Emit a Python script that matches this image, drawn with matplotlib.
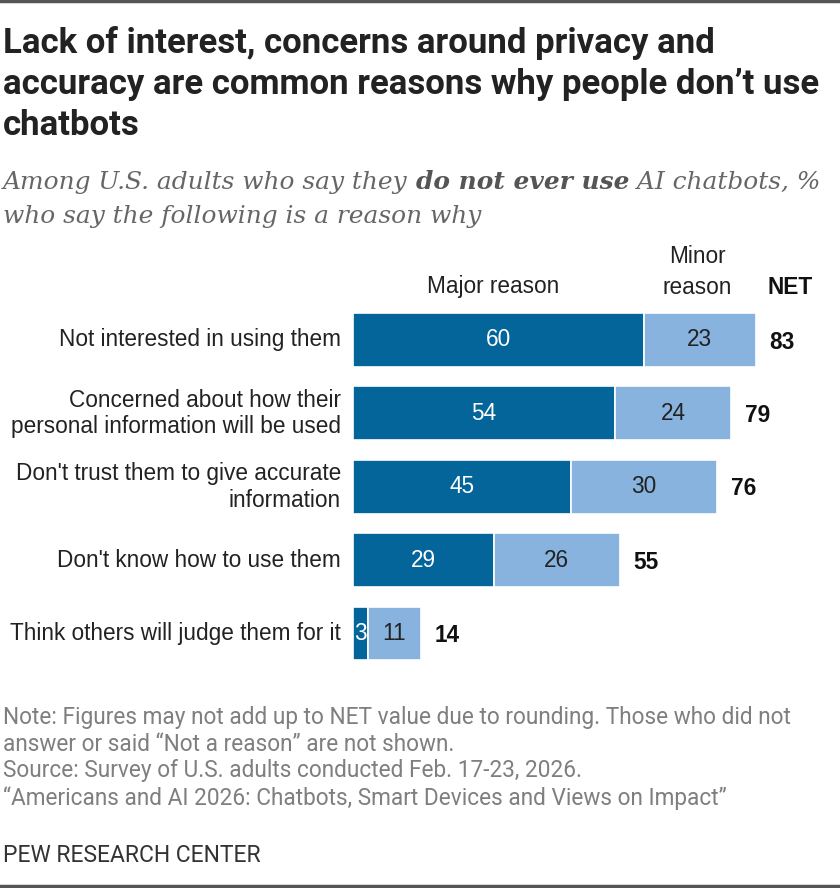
import matplotlib
matplotlib.use("Agg")
import matplotlib.pyplot as plt
from matplotlib.lines import Line2D

categories = [
    "Not interested in using them",
    "Concerned about how their\npersonal information will be used",
    "Don't trust them to give accurate\ninformation",
    "Don't know how to use them",
    "Think others will judge them for it",
]
major = [60, 54, 45, 29, 3]
minor = [23, 24, 30, 26, 11]
net = [83, 79, 76, 55, 14]

DARK = "#03659a"
LIGHT = "#88b3df"

W, H = 840, 888
fig = plt.figure(figsize=(W / 100, H / 100), dpi=100)

narrow = "Roboto"
body = "Liberation Sans"
serif = "DejaVu Serif"
FS = 16.3


def fx(px):
    return px / W


def fy(py):
    return 1 - py / H


# frame lines at top and bottom
fig.add_artist(Line2D([0, 1], [fy(1), fy(1)], color="#555555", lw=2.5))
fig.add_artist(Line2D([0, 1], [fy(886), fy(886)], color="#555555", lw=2.5))

# title / subtitle
title = ("Lack of interest, concerns around privacy and\n"
         "accuracy are common reasons why people don\u2019t use\n"
         "chatbots")
fig.text(fx(3), fy(26), title, family=narrow, weight="bold", fontsize=25,
         color="#222222", va="top", ha="left", linespacing=1.31)

sub_y1 = fy(182)
sub_fs = 17.9
t1 = fig.text(fx(3), sub_y1, "Among U.S. adults who say they ", family=serif, style="italic",
              fontsize=sub_fs, color="#666666", va="center")
fig.canvas.draw()
r = fig.canvas.get_renderer()
bb = t1.get_window_extent(r)
t2 = fig.text(bb.x1 / W, sub_y1, "do not ever use", family=serif, style="italic",
              weight="bold", fontsize=sub_fs, color="#555555", va="center")
bb2 = t2.get_window_extent(r)
fig.text(bb2.x1 / W, sub_y1, " AI chatbots, %", family=serif, style="italic",
         fontsize=sub_fs, color="#666666", va="center")
fig.text(fx(3), fy(216), "who say the following is a reason why", family=serif,
         style="italic", fontsize=sub_fs, color="#666666", va="center")

# bar axes: 1 unit = 4.85 px, bars start at x=353
px_per = 4.85
ax_left, ax_top, ax_bot = 353, 303.3, 670.2
ax = fig.add_axes([fx(ax_left), fy(ax_bot), 100 * px_per / W, (ax_bot - ax_top) / H])
ax.set_xlim(0, 100)
ax.set_ylim(len(categories) - 0.5, -0.5)
ax.axis("off")

ypos = list(range(len(categories)))
ax.barh(ypos, major, height=0.735, color=DARK, edgecolor="white", linewidth=1.2)
ax.barh(ypos, minor, left=major, height=0.735, color=LIGHT, edgecolor="white", linewidth=1.2)

for i, cat in enumerate(categories):
    ax.text(-12 / px_per, i, cat, ha="right", va="center", family=body,
            fontsize=FS, color="#222222", linespacing=1.2)
    ax.text(major[i] / 2, i, str(major[i]), ha="center", va="center",
            family=body, fontsize=FS, color="white")
    ax.text(major[i] + minor[i] / 2, i, str(minor[i]), ha="center", va="center",
            family=body, fontsize=FS, color="#222222")
    ax.text(major[i] + minor[i] + 14 / px_per, i + 0.03, str(net[i]), ha="left", va="center",
            family=body, weight="bold", fontsize=FS, color="#111111")

# column headers
fig.text(fx(493), fy(287), "Major reason", ha="center", va="center", family=body,
         fontsize=FS, color="#222222")
fig.text(fx(697), fy(272), "Minor\nreason", ha="center", va="center", family=body,
         fontsize=FS, color="#222222", linespacing=1.45)
fig.text(fx(790), fy(287), "NET", ha="center", va="center", family=body,
         weight="bold", fontsize=FS, color="#111111")

# notes
notes = ("Note: Figures may not add up to NET value due to rounding. Those who did not\n"
         "answer or said \u201cNot a reason\u201d are not shown.\n"
         "Source: Survey of U.S. adults conducted Feb. 17-23, 2026.\n"
         "\u201cAmericans and AI 2026: Chatbots, Smart Devices and Views on Impact\u201d")
fig.text(fx(3), fy(706), notes, family=narrow, fontsize=16.3, color="#7f7f7f",
         va="top", ha="left", linespacing=1.2)
fig.text(fx(3), fy(855), "PEW RESEARCH CENTER", family=narrow, fontsize=16.5,
         color="#333333", va="center", ha="left")

fig.savefig("out.png", dpi=100)
